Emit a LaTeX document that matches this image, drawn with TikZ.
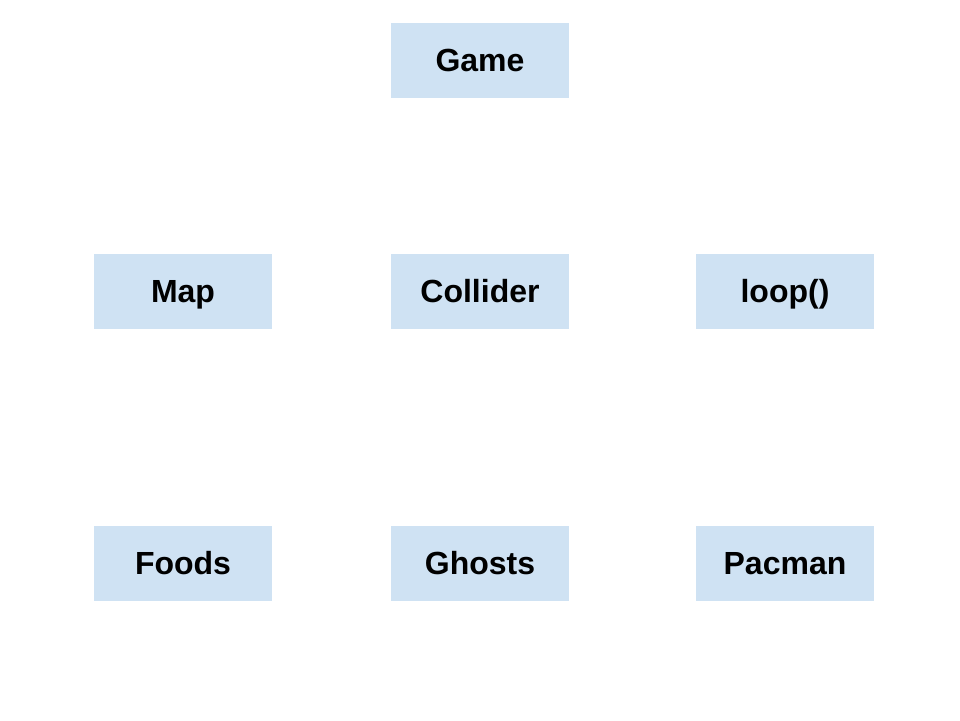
\documentclass[tikz,border=0pt]{standalone}
\usepackage{fontspec}
\setmainfont{Liberation Sans}
\usepackage{tikz}
\usetikzlibrary{positioning}
\definecolor{boxblue}{HTML}{CFE2F3}
\tikzset{
	classbox/.style={fill=boxblue, draw=none, minimum width=178pt, minimum height=75pt,
		inner sep=0pt, text height=22.9pt, text depth=0pt,
		font=\fontsize{32}{38}\selectfont\bfseries}
}
\begin{document}
\begin{tikzpicture}[x=1pt, y=-1pt]
		\useasboundingbox (0,0) rectangle (960,720);
		\node[classbox] (game) at (480,60.5) {Game};
		\node[classbox] (map) at (183,291) {Map};
		\node[classbox] (collider) at (480,291) {Collider};
		\node[classbox] (loop) at (785,291) {loop()};
		\node[classbox] (foods) at (183,563.5) {Foods};
		\node[classbox] (ghosts) at (480,563.5) {Ghosts};
		\node[classbox] (pacman) at (785,563.5) {Pacman};
	\end{tikzpicture}
\end{document}
